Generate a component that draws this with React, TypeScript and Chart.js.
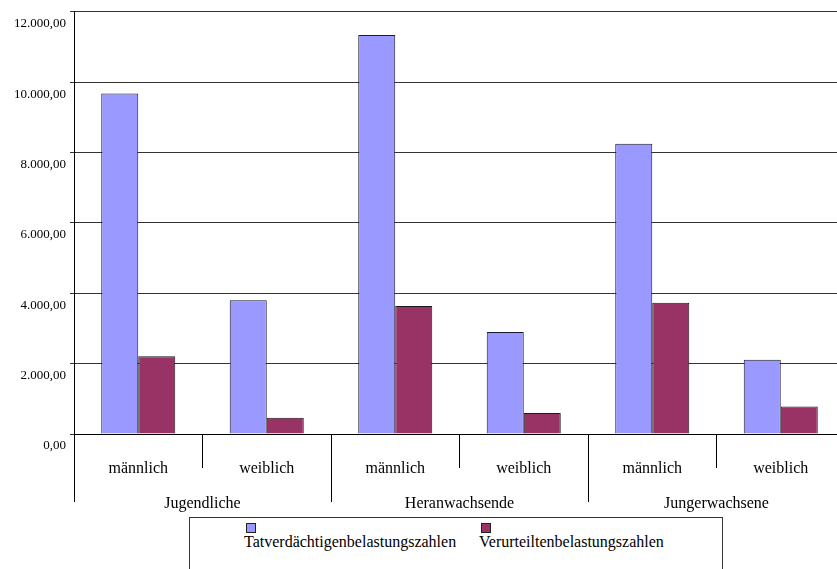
import React, { useEffect, useRef } from "react";
import { Chart, registerables } from "chart.js";

Chart.register(...registerables);

const subLabels = ["männlich", "weiblich", "männlich", "weiblich", "männlich", "weiblich"];
const groupLabels = ["Jugendliche", "Heranwachsende", "Jungerwachsene"];
const seriesNames = ["Tatverdächtigenbelastungszahlen", "Verurteiltenbelastungszahlen"];
const tatverdaechtige = [9680, 3800, 11340, 2900, 8250, 2110];
const verurteilte = [2210, 460, 3640, 600, 3730, 780];
const seriesColors = ["#9999FF", "#993366"];
const yMin = 0;
const yMax = 12000;
const yStep = 2000;

const FONT = "Liberation Serif";

function fmtDe(v: number): string {
  const s = Math.round(v).toString().replace(/\B(?=(\d{3})+(?!\d))/g, ".");
  return s + ",00";
}

export default function App() {
  const ref = useRef<HTMLCanvasElement | null>(null);

  useEffect(() => {
    if (!ref.current) return;
    const chart = new Chart(ref.current, {
      type: "bar",
      data: {
        labels: subLabels,
        datasets: [
          {
            label: seriesNames[0],
            data: tatverdaechtige,
            backgroundColor: seriesColors[0],
            borderColor: "#1a1a2e",
            borderWidth: 1,
            categoryPercentage: 0.576,
            barPercentage: 1,
          },
          {
            label: seriesNames[1],
            data: verurteilte,
            backgroundColor: seriesColors[1],
            borderColor: "#1a1a1a",
            borderWidth: 1,
            categoryPercentage: 0.576,
            barPercentage: 1,
          },
        ],
      },
      options: {
        responsive: false,
        animation: false,
        devicePixelRatio: 1,
        layout: { padding: { top: 9, right: 5, left: 0, bottom: 0 } },
        plugins: {
          legend: { display: false },
          tooltip: { enabled: false },
        },
        scales: {
          x: {
            type: "category",
            position: "bottom",
            offset: true,
            grid: {
              offset: true,
              drawOnChartArea: false,
              drawTicks: true,
              tickLength: 34,
              color: "#000",
            },
            border: { display: true, color: "#000" },
            ticks: {
              color: "#000",
              font: { family: FONT, size: 16 },
              padding: -9,
              maxRotation: 0,
              autoSkip: false,
            },
            afterFit: (scale: any) => {
              scale.height = 135;
            },
          },
          x2: {
            type: "category",
            axis: "x",
            position: { y: 0 },
            labels: groupLabels,
            offset: true,
            grid: {
              offset: true,
              drawOnChartArea: false,
              drawTicks: true,
              tickLength: 68,
              color: "#000",
            },
            border: { display: false },
            ticks: {
              color: "#000",
              font: { family: FONT, size: 16 },
              padding: -8,
              maxRotation: 0,
              autoSkip: false,
            },
          },
          y: {
            min: yMin,
            max: yMax,
            grid: {
              color: "#333",
              tickLength: 4,
            },
            border: { display: true, color: "#000" },
            ticks: {
              stepSize: yStep,
              color: "#000",
              font: { family: FONT, size: 13 },
              padding: 4,
              labelOffset: 12,
              callback: (v: any) => fmtDe(Number(v)),
            },
            afterFit: (scale: any) => {
              scale.width = 74;
            },
          },
        },
      },
    });
    return () => chart.destroy();
  }, []);

  const legendLefts = [54, 289];

  return (
    <div
      style={{
        position: "fixed",
        left: 0,
        top: 0,
        width: 837,
        height: 569,
        overflow: "hidden",
        background: "#fff",
      }}
    >
      <canvas ref={ref} width={850} height={569} style={{ display: "block", width: 850, height: 569 }} />
      <div
        style={{
          position: "absolute",
          left: 189,
          top: 517,
          width: 534,
          height: 70,
          border: "1px solid #333",
          boxSizing: "border-box",
          background: "#fff",
        }}
      >
        {seriesNames.map((name, i) => (
          <div
            key={name}
            style={{
              position: "absolute",
              left: legendLefts[i],
              top: 5,
              fontFamily: "'Liberation Serif', serif",
              fontSize: 16,
              lineHeight: "18px",
              color: "#000",
              whiteSpace: "nowrap",
            }}
          >
            <div
              style={{
                width: 10,
                height: 10,
                marginLeft: 2,
                background: seriesColors[i],
                border: "1px solid #222",
                boxSizing: "border-box",
              }}
            />
            <div>{name}</div>
          </div>
        ))}
      </div>
    </div>
  );
}
